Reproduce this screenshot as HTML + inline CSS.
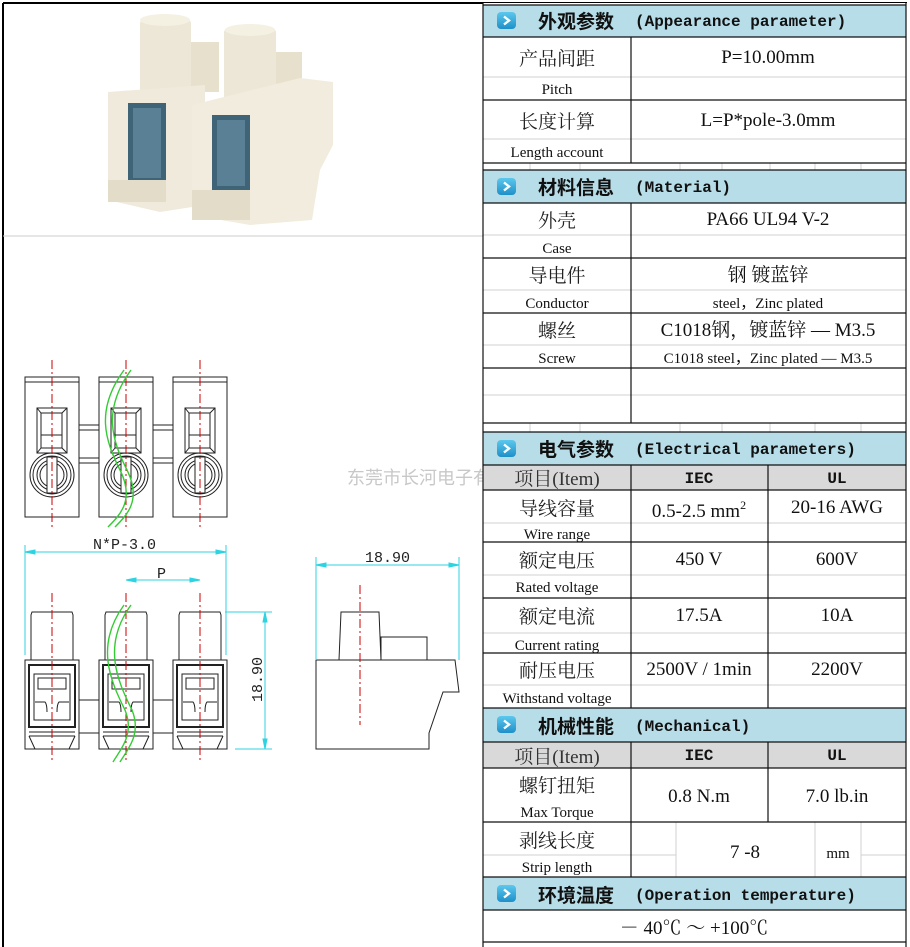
<!DOCTYPE html>
<html><head><meta charset="utf-8"><style>
html,body{margin:0;padding:0;background:#fff;width:910px;height:947px;overflow:hidden}
svg{display:block}
.cn{font-family:"Liberation Serif","Noto Serif CJK SC",serif;font-size:19px;fill:#222}
.en{font-family:"Liberation Serif",serif;font-size:15px;fill:#111}
.val{font-family:"Liberation Serif","Noto Serif CJK SC",serif;font-size:19px;fill:#111}
.hd{font-family:"Liberation Sans","Noto Sans CJK SC",sans-serif;font-size:19px;font-weight:bold;fill:#111}
.hm{font-family:"Liberation Mono",monospace;font-size:16px;font-weight:bold;fill:#111}
.dim{font-family:"Liberation Mono",monospace;font-size:15px;fill:#222}
</style></head><body>
<svg width="910" height="947" viewBox="0 0 910 947" xmlns="http://www.w3.org/2000/svg">
<defs>
<linearGradient id="ig" x1="0" y1="0" x2="0" y2="1"><stop offset="0" stop-color="#5cc8ee"/><stop offset="1" stop-color="#1f8fc8"/></linearGradient>
<g id="icon"><rect x="0" y="0" width="19" height="17" rx="4" fill="url(#ig)"/><path d="M7 4.5 L12 8.5 L7 12.5" stroke="#fff" stroke-width="2.4" fill="none"/></g>
<g id="topblk" fill="none" stroke="#222" stroke-width="1">
<rect x="0" y="0" width="54" height="140"/><line x1="0" y1="5" x2="54" y2="5"/>
<rect x="12" y="31" width="30" height="45"/><rect x="16" y="36" width="21" height="35"/>
<line x1="12" y1="31" x2="16" y2="36"/><line x1="42" y1="31" x2="37" y2="36"/><line x1="12" y1="76" x2="16" y2="71"/><line x1="42" y1="76" x2="37" y2="71"/>
<line x1="16" y1="58" x2="37" y2="58"/>
<circle cx="27" cy="98" r="22"/><circle cx="27" cy="98" r="19"/><circle cx="27" cy="98" r="15"/><circle cx="27" cy="98" r="12"/>
<rect x="22" y="80" width="10" height="36" fill="#fff"/>
</g>
<g id="frontblk" fill="none" stroke="#222" stroke-width="1">
<path d="M7 0 H47 L48 3 V48 H6 V3 Z"/>
<rect x="0" y="48" width="54" height="89" fill="#fff"/>
<rect x="4" y="53" width="46" height="62" stroke-width="2"/>
<rect x="9" y="62" width="36" height="46"/>
<rect x="13" y="66" width="28" height="11"/>
<path d="M10 90 H20 Q22 92 22 100 M44 90 H34 Q32 92 32 100"/>
<line x1="4" y1="120" x2="50" y2="120"/><line x1="4" y1="124" x2="50" y2="124"/>
<line x1="4" y1="124" x2="10" y2="137"/><line x1="50" y1="124" x2="44" y2="137"/>
</g>
</defs>

<line x1="3" y1="3" x2="907" y2="3" stroke="#000" stroke-width="2"/>
<line x1="3" y1="3" x2="3" y2="947" stroke="#000" stroke-width="2"/>
<line x1="3" y1="236" x2="483" y2="236" stroke="#ccc"/>

<g>
<rect x="140" y="18" width="51" height="80" rx="6" fill="#ece7d6"/>
<ellipse cx="165" cy="20" rx="25" ry="6" fill="#f4f0e2"/>
<rect x="191" y="42" width="28" height="50" fill="#e6e0cc"/>
<rect x="224" y="27" width="52" height="80" rx="6" fill="#ece7d6"/>
<ellipse cx="250" cy="30" rx="25" ry="6" fill="#f4f0e2"/>
<rect x="276" y="52" width="26" height="40" fill="#e6e0cc"/>
<path d="M108 92 L205 85 L205 205 L160 212 L108 200 Z" fill="#efeadb"/>
<rect x="128" y="103" width="38" height="80" fill="#3f6478"/>
<rect x="133" y="108" width="28" height="70" fill="#5a8096"/>
<path d="M192 105 L300 78 L333 82 L333 145 L320 170 L312 220 L250 225 L192 215 Z" fill="#f1ecdd"/>
<rect x="212" y="115" width="38" height="76" fill="#3f6478"/>
<rect x="217" y="120" width="28" height="66" fill="#5a8096"/>
<rect x="192" y="190" width="58" height="30" fill="#e2dcc8"/>
<rect x="108" y="180" width="58" height="22" fill="#e2dcc8"/>
</g>

<text x="347" y="484" style="font-family:'Noto Sans CJK SC',sans-serif;font-size:18px;fill:#c8c8c8">东莞市长河电子有限公司</text>

<g fill="none" stroke="#222">
<rect x="79" y="425" width="20" height="38"/><rect x="79" y="430" width="20" height="28"/>
<rect x="153" y="425" width="20" height="38"/><rect x="153" y="430" width="20" height="28"/>
</g>
<use href="#topblk" x="25" y="377"/>
<use href="#topblk" x="99" y="377"/>
<use href="#topblk" x="173" y="377"/>

<g fill="none" stroke="#222"><rect x="79" y="700" width="20" height="33"/><rect x="153" y="700" width="20" height="33"/></g>
<use href="#frontblk" x="25" y="612"/>
<use href="#frontblk" x="99" y="612"/>
<use href="#frontblk" x="173" y="612"/>

<g fill="none" stroke="#222">
<path d="M341 612 H379 L381 660 H339 Z" fill="#fff"/>
<rect x="381" y="637" width="46" height="23"/>
<path d="M316 660 H455 L459 692 H443 L429 733 V749 H316 Z" fill="#fff"/>
</g>

<g stroke="#c00" stroke-width="1" stroke-dasharray="9,3,2,3">
<line x1="52" y1="360" x2="52" y2="527"/><line x1="126" y1="360" x2="126" y2="527"/><line x1="200" y1="360" x2="200" y2="527"/>
<line x1="52" y1="593" x2="52" y2="760"/><line x1="126" y1="593" x2="126" y2="760"/><line x1="200" y1="593" x2="200" y2="760"/>
<line x1="360" y1="585" x2="360" y2="725"/>
</g>

<g fill="none" stroke="#3c3" stroke-width="1.4">
<path d="M124 370 C95 410 105 440 120 470 C135 500 120 515 108 527"/>
<path d="M131 370 C102 410 112 440 127 470 C142 500 127 515 115 527"/>
<path d="M124 605 C95 645 110 680 125 710 C135 735 120 750 113 762"/>
<path d="M131 605 C102 645 117 680 132 710 C142 735 127 750 120 762"/>
</g>

<g stroke="#2cd3e0" stroke-width="1" fill="#2cd3e0">
<line x1="25" y1="545" x2="25" y2="655"/><line x1="226" y1="545" x2="226" y2="655"/>
<line x1="25" y1="552" x2="226" y2="552"/>
<path d="M25 552 l10 -2 v4 z M226 552 l-10 -2 v4 z"/>
<line x1="126" y1="580" x2="200" y2="580"/>
<path d="M126 580 l10 -2 v4 z M200 580 l-10 -2 v4 z"/>
<line x1="225" y1="612" x2="272" y2="612"/><line x1="235" y1="749" x2="272" y2="749"/>
<line x1="265" y1="612" x2="265" y2="749"/>
<path d="M265 612 l-2 10 h4 z M265 749 l-2 -10 h4 z"/>
<line x1="316" y1="557" x2="316" y2="660"/><line x1="459" y1="557" x2="459" y2="660"/>
<line x1="316" y1="565" x2="459" y2="565"/>
<path d="M316 565 l10 -2 v4 z M459 565 l-10 -2 v4 z"/>
</g>
<text class="dim" x="93" y="549">N*P-3.0</text>
<text class="dim" x="157" y="578">P</text>
<text class="dim" x="365" y="562">18.90</text>
<text class="dim" transform="translate(262,702) rotate(-90)">18.90</text>

<rect x="483" y="3" width="424" height="944" fill="#fff"/>
<g fill="#b7dde8">
<rect x="483" y="5" width="423" height="32"/>
<rect x="483" y="170" width="423" height="33"/>
<rect x="483" y="432" width="423" height="33"/>
<rect x="483" y="708" width="423" height="34"/>
<rect x="483" y="877" width="423" height="33"/>
</g>
<g fill="#d9d9d9"><rect x="483" y="465" width="423" height="25"/><rect x="483" y="742" width="423" height="26"/></g>
<g stroke="#d0d0d0" stroke-width="1">
<line x1="483" y1="77" x2="906" y2="77"/><line x1="483" y1="139" x2="906" y2="139"/>
<line x1="483" y1="235" x2="906" y2="235"/><line x1="483" y1="290" x2="906" y2="290"/><line x1="483" y1="345" x2="906" y2="345"/><line x1="483" y1="395" x2="906" y2="395"/>
<line x1="483" y1="523" x2="906" y2="523"/><line x1="483" y1="575" x2="906" y2="575"/><line x1="483" y1="633" x2="906" y2="633"/><line x1="483" y1="685" x2="906" y2="685"/>
<line x1="483" y1="855" x2="676" y2="855"/><line x1="861" y1="855" x2="906" y2="855"/>
<line x1="676" y1="822" x2="676" y2="877"/><line x1="815" y1="822" x2="815" y2="877"/><line x1="861" y1="822" x2="861" y2="877"/>
<line x1="530" y1="163" x2="530" y2="170"/><line x1="580" y1="163" x2="580" y2="170"/><line x1="680" y1="163" x2="680" y2="170"/><line x1="722" y1="163" x2="722" y2="170"/><line x1="770" y1="163" x2="770" y2="170"/><line x1="815" y1="163" x2="815" y2="170"/><line x1="861" y1="163" x2="861" y2="170"/>
<line x1="530" y1="423" x2="530" y2="432"/><line x1="580" y1="423" x2="580" y2="432"/><line x1="680" y1="423" x2="680" y2="432"/><line x1="722" y1="423" x2="722" y2="432"/><line x1="770" y1="423" x2="770" y2="432"/><line x1="815" y1="423" x2="815" y2="432"/><line x1="861" y1="423" x2="861" y2="432"/>
</g>
<g stroke="#111" stroke-width="1.2" fill="none">
<line x1="483" y1="5" x2="906" y2="5"/><line x1="483" y1="37" x2="906" y2="37"/><line x1="483" y1="100" x2="906" y2="100"/><line x1="483" y1="163" x2="906" y2="163"/>
<line x1="483" y1="170" x2="906" y2="170"/><line x1="483" y1="203" x2="906" y2="203"/><line x1="483" y1="258" x2="906" y2="258"/><line x1="483" y1="313" x2="906" y2="313"/><line x1="483" y1="368" x2="906" y2="368"/><line x1="483" y1="423" x2="906" y2="423"/>
<line x1="483" y1="432" x2="906" y2="432"/><line x1="483" y1="465" x2="906" y2="465"/><line x1="483" y1="490" x2="906" y2="490"/><line x1="483" y1="542" x2="906" y2="542"/><line x1="483" y1="598" x2="906" y2="598"/><line x1="483" y1="653" x2="906" y2="653"/>
<line x1="483" y1="708" x2="906" y2="708"/><line x1="483" y1="742" x2="906" y2="742"/><line x1="483" y1="768" x2="906" y2="768"/><line x1="483" y1="822" x2="906" y2="822"/>
<line x1="483" y1="877" x2="906" y2="877"/><line x1="483" y1="910" x2="906" y2="910"/><line x1="483" y1="942" x2="906" y2="942"/>
<line x1="483" y1="3" x2="483" y2="947"/><line x1="906" y1="3" x2="906" y2="947"/>
<line x1="631" y1="37" x2="631" y2="163"/><line x1="631" y1="203" x2="631" y2="423"/><line x1="631" y1="465" x2="631" y2="708"/><line x1="631" y1="742" x2="631" y2="877"/>
<line x1="768" y1="465" x2="768" y2="708"/><line x1="768" y1="742" x2="768" y2="822"/>
</g>
<use href="#icon" x="497" y="12"/><use href="#icon" x="497" y="178"/><use href="#icon" x="497" y="440"/><use href="#icon" x="497" y="716"/><use href="#icon" x="497" y="885"/>
<text class="hd" x="538" y="28">外观参数</text><text class="hm" x="635" y="26">(Appearance parameter)</text>
<text class="hd" x="538" y="194">材料信息</text><text class="hm" x="635" y="192">(Material)</text>
<text class="hd" x="538" y="456">电气参数</text><text class="hm" x="635" y="454">(Electrical parameters)</text>
<text class="hd" x="538" y="733">机械性能</text><text class="hm" x="635" y="731">(Mechanical)</text>
<text class="hd" x="538" y="902">环境温度</text><text class="hm" x="635" y="900">(Operation temperature)</text>

<g text-anchor="middle">
<text class="cn" x="557" y="65">产品间距</text><text class="en" x="557" y="94">Pitch</text>
<text class="val" x="768" y="63">P=10.00mm</text>
<text class="cn" x="557" y="128">长度计算</text><text class="en" x="557" y="157">Length account</text>
<text class="val" x="768" y="126">L=P*pole-3.0mm</text>
<text class="cn" x="557" y="227">外壳</text><text class="en" x="557" y="253">Case</text>
<text class="val" x="768" y="225">PA66 UL94 V-2</text>
<text class="cn" x="557" y="282">导电件</text><text class="en" x="557" y="308">Conductor</text>
<text class="val" x="768" y="281">钢  镀蓝锌</text><text class="en" x="768" y="308">steel，Zinc plated</text>
<text class="cn" x="557" y="337">螺丝</text><text class="en" x="557" y="363">Screw</text>
<text class="val" x="768" y="336">C1018钢，镀蓝锌 — M3.5</text><text class="en" x="768" y="363">C1018 steel，Zinc plated — M3.5</text>

<text class="cn" x="557" y="485" style="fill:#333">项目(Item)</text>
<text class="hm" x="699" y="483">IEC</text><text class="hm" x="837" y="483">UL</text>
<text class="cn" x="557" y="515">导线容量</text><text class="en" x="557" y="539">Wire range</text>
<text class="val" x="699" y="517">0.5-2.5 mm<tspan dy="-8" font-size="12">2</tspan></text>
<text class="val" x="837" y="513">20-16  AWG</text>
<text class="cn" x="557" y="567">额定电压</text><text class="en" x="557" y="592">Rated voltage</text>
<text class="val" x="699" y="565">450 V</text><text class="val" x="837" y="565">600V</text>
<text class="cn" x="557" y="623">额定电流</text><text class="en" x="557" y="650">Current rating</text>
<text class="val" x="699" y="621">17.5A</text><text class="val" x="837" y="621">10A</text>
<text class="cn" x="557" y="677">耐压电压</text><text class="en" x="557" y="703">Withstand voltage</text>
<text class="val" x="699" y="675">2500V / 1min</text><text class="val" x="837" y="675">2200V</text>

<text class="cn" x="557" y="763" style="fill:#333">项目(Item)</text>
<text class="hm" x="699" y="760">IEC</text><text class="hm" x="837" y="760">UL</text>
<text class="cn" x="557" y="792">螺钉扭矩</text><text class="en" x="557" y="817">Max Torque</text>
<text class="val" x="699" y="802">0.8  N.m</text><text class="val" x="837" y="802">7.0 lb.in</text>
<text class="cn" x="557" y="847">剥线长度</text><text class="en" x="557" y="872">Strip length</text>
<text class="val" x="745" y="858">7  -8</text><text class="en" x="838" y="858">mm</text>
<text class="val" x="694" y="934">－ 40℃  ～  +100℃</text>
</g>
</svg>
</body></html>
